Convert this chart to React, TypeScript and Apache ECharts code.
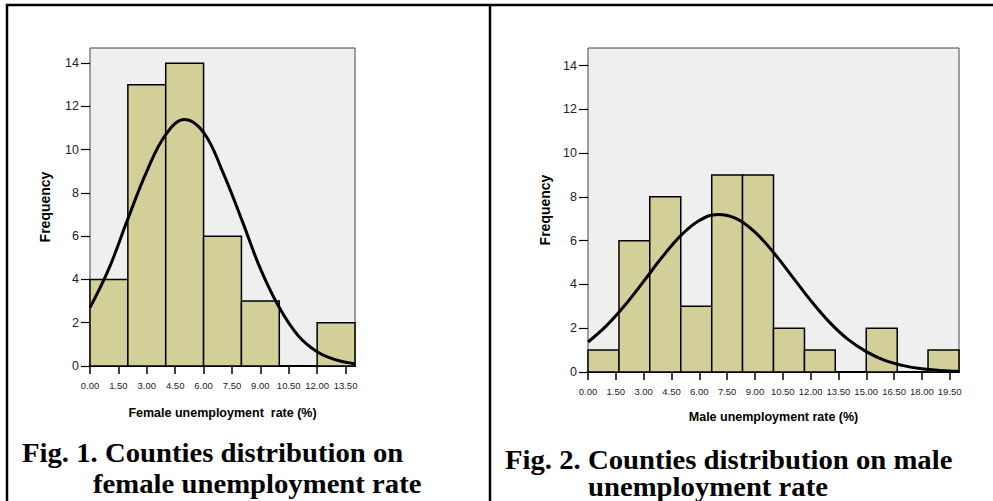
import React, { useEffect, useRef } from "react";
import * as echarts from "echarts";

// ---- Data ----
const femaleBinEdges = [0, 2, 4, 6, 8, 10, 12, 14];
const femaleCounts = [4, 13, 14, 6, 3, 0, 2];
const femaleCurve: [number, number][] = [
  [0, 2.7], [1, 4.5], [2, 6.8], [3, 9.0], [4, 10.7], [5, 11.4], [6, 10.8],
  [7, 9.0], [8, 6.8], [9, 4.5], [10, 2.7], [11, 1.4], [12, 0.66], [13, 0.28], [14, 0.1],
];
const femaleXTicks = [0, 1.5, 3, 4.5, 6, 7.5, 9, 10.5, 12, 13.5];

const maleBinEdges = [0, 1.67, 3.33, 5, 6.67, 8.33, 10, 11.67, 13.33, 15, 16.67, 18.33, 20];
const maleCounts = [1, 6, 8, 3, 9, 9, 2, 1, 0, 2, 0, 1];
const maleCurve: [number, number][] = [
  [0, 1.37], [1, 2.12], [2, 3.06], [3, 4.14], [4, 5.25], [5, 6.23], [6, 6.92],
  [7, 7.2], [8, 7.01], [9, 6.39], [10, 5.46], [11, 4.37], [12, 3.27], [13, 2.29],
  [14, 1.5], [15, 0.93], [16, 0.53], [17, 0.29], [18, 0.145], [19, 0.07], [20, 0.03],
];
const maleXTicks = [0, 1.5, 3, 4.5, 6, 7.5, 9, 10.5, 12, 13.5, 15, 16.5, 18, 19.5];

const yTicks = [0, 2, 4, 6, 8, 10, 12, 14];

const femaleXName = "Female unemployment  rate (%)";
const maleXName = "Male unemployment rate (%)";
const yName = "Frequency";

const captionLeft = ["Fig. 1. Counties distribution on", "female unemployment rate"];
const captionRight = ["Fig. 2. Counties distribution on male", "unemployment rate"];

// ---- helpers ----
const bins = (edges: number[], counts: number[]) =>
  counts.map((c, i) => [edges[i], edges[i + 1], c]);

const SANS = '"Liberation Sans", Arial, sans-serif';
const SERIF = '"Liberation Serif", "Times New Roman", serif';
const BAR_FILL = "#d3cf98";

const renderBin = (params: any, api: any) => {
  const x0 = api.value(0);
  const x1 = api.value(1);
  const c = api.value(2);
  if (!c) return null;
  const p0 = api.coord([x0, c]);
  const p1 = api.coord([x1, 0]);
  return {
    type: "rect",
    shape: { x: p0[0], y: p0[1], width: p1[0] - p0[0], height: p1[1] - p0[1] },
    style: { fill: BAR_FILL, stroke: "#000", lineWidth: 1.5 },
  };
};

const xAxisFor = (gridIndex: number, max: number, ticks: number[], name: string, nameGap: number) => ({
  type: "value",
  gridIndex,
  min: 0,
  max,
  name,
  nameLocation: "middle",
  nameGap,
  nameTextStyle: { fontFamily: SANS, fontWeight: "bold", fontSize: 12.5, color: "#000" },
  axisLine: { show: true, onZero: false, lineStyle: { color: "#000", width: 2 } },
  axisTick: { show: true, length: 8, customValues: ticks, lineStyle: { color: "#000", width: 1.5 } },
  axisLabel: {
    customValues: ticks,
    formatter: (v: number) => v.toFixed(2),
    fontFamily: SANS,
    fontSize: 9.5,
    color: "#222",
    margin: 14,
  },
  splitLine: { show: false },
});

const yAxisFor = (gridIndex: number, max: number, nameGap: number) => ({
  type: "value",
  gridIndex,
  min: 0,
  max,
  name: yName,
  nameLocation: "middle",
  nameRotate: 90,
  nameGap,
  nameTextStyle: { fontFamily: SANS, fontWeight: "bold", fontSize: 14, color: "#000" },
  axisLine: { show: false },
  axisTick: { show: true, length: 9, customValues: yTicks, lineStyle: { color: "#000", width: 1.2 } },
  axisLabel: { customValues: yTicks, fontFamily: SANS, fontSize: 12.5, color: "#222", margin: 11 },
  splitLine: { show: false },
});

export default function App() {
  const ref = useRef<HTMLDivElement>(null);

  useEffect(() => {
    if (!ref.current) return;
    const chart = echarts.init(ref.current, null, { renderer: "svg" });

    const captionText = (text: string, x: number, y: number) => ({
      type: "text",
      x,
      y,
      scaleX: 1.064,
      style: {
        text,
        fontFamily: SERIF,
        fontWeight: "bold",
        fontSize: 27,
        fill: "#000",
        align: "left",
        verticalAlign: "middle",
      },
    });

    chart.setOption({
      animation: false,
      backgroundColor: "#fff",
      grid: [
        { left: 90, top: 48, width: 265, height: 318, show: true, backgroundColor: "#efefef", borderColor: "#444", borderWidth: 1 },
        { left: 588, top: 48, width: 371, height: 324, show: true, backgroundColor: "#efefef", borderColor: "#444", borderWidth: 1 },
      ],
      xAxis: [
        xAxisFor(0, 14, femaleXTicks, femaleXName, 40),
        xAxisFor(1, 20, maleXTicks, maleXName, 38),
      ],
      yAxis: [yAxisFor(0, 14.7, 38), yAxisFor(1, 14.8, 36)],
      series: [
        {
          type: "custom",
          xAxisIndex: 0,
          yAxisIndex: 0,
          renderItem: renderBin,
          encode: { x: [0, 1], y: 2 },
          data: bins(femaleBinEdges, femaleCounts),
          z: 2,
        },
        {
          type: "line",
          xAxisIndex: 0,
          yAxisIndex: 0,
          data: femaleCurve,
          smooth: 0.4,
          symbol: "none",
          lineStyle: { color: "#000", width: 3 },
          z: 3,
        },
        {
          type: "custom",
          xAxisIndex: 1,
          yAxisIndex: 1,
          renderItem: renderBin,
          encode: { x: [0, 1], y: 2 },
          data: bins(maleBinEdges, maleCounts),
          z: 2,
        },
        {
          type: "line",
          xAxisIndex: 1,
          yAxisIndex: 1,
          data: maleCurve,
          smooth: 0.4,
          symbol: "none",
          lineStyle: { color: "#000", width: 3 },
          z: 3,
        },
      ],
      graphic: [
        { type: "line", shape: { x1: 6, y1: 5, x2: 993, y2: 5 }, style: { stroke: "#000", lineWidth: 2.5 } },
        { type: "line", shape: { x1: 7, y1: 4, x2: 7, y2: 501 }, style: { stroke: "#000", lineWidth: 2.5 } },
        { type: "line", shape: { x1: 490, y1: 4, x2: 490, y2: 501 }, style: { stroke: "#000", lineWidth: 2.5 } },
        captionText(captionLeft[0], 22, 453),
        captionText(captionLeft[1], 93, 484),
        captionText(captionRight[0], 505, 460),
        captionText(captionRight[1], 588, 487),
      ],
    });

    return () => chart.dispose();
  }, []);

  return (
    <div
      ref={ref}
      style={{ position: "absolute", left: 0, top: 0, width: 993, height: 501, background: "#fff" }}
    />
  );
}
